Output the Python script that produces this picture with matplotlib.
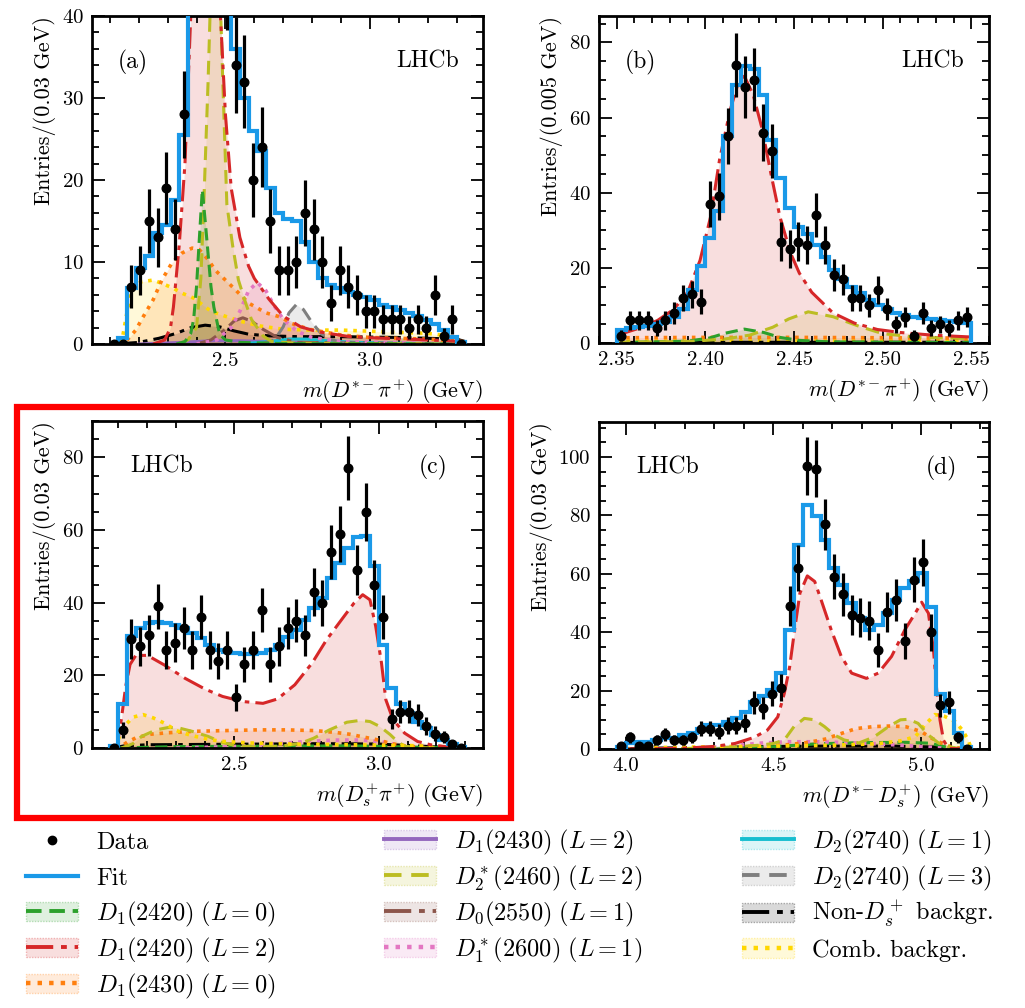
import numpy as np
import matplotlib
matplotlib.use("Agg")
from matplotlib import pyplot as plt
from matplotlib import colors as mcolors
from matplotlib.lines import Line2D
from matplotlib.patches import Patch, Rectangle
from matplotlib.ticker import MultipleLocator, FormatStrFormatter

plt.rcParams["font.family"] = "cmr10"
plt.rcParams["mathtext.fontset"] = "cm"
plt.rcParams["axes.formatter.use_mathtext"] = True
plt.rcParams["font.size"] = 15

FIT_COLOR = "#1a99e8"

# ---------------- panel (a): m(D*- pi+), 0.03 GeV bins ----------------
a_bins = (2.10, 3.33, 41)
a_counts = [0, 0, 7, 9, 15, 13, 19, 14, 28, 58, 90, 95, 75, 45, 34, 32, 20, 24,
            15, 9, 9, 10, 16, 14, 10, 5, 9, 7, 6, 4, 4, 3, 3, 3, 2, 3, 2, 6, 1, 3, 0]
a_fit = [0, 0.7, 6.8, 9.3, 10.7, 13.5, 14.5, 17.6, 25.5, 62, 98, 105, 80, 48, 36,
         30, 26, 23.5, 19, 16, 15.3, 15, 12.5, 10, 8, 7.2, 6.8, 6.4, 6.0, 5.7, 5.4,
         4.8, 4.5, 4.1, 3.8, 3.4, 2.9, 2.4, 1.7, 0.8, 0.2]

a_d12420_L0_x = [2.33, 2.36, 2.38, 2.39, 2.40, 2.41, 2.42, 2.43, 2.44, 2.45, 2.46, 2.48, 2.50, 2.55, 2.70, 3.33]
a_d12420_L0_y = [0, 0.3, 1.3, 3, 7, 13, 18.8, 15, 11, 7, 4.5, 1.2, 0.5, 0.2, 0.05, 0]
a_d12420_L2_x = [2.25, 2.29, 2.31, 2.32, 2.34, 2.36, 2.38, 2.40, 2.42, 2.44, 2.46, 2.48, 2.50,
                 2.52, 2.55, 2.58, 2.60, 2.65, 2.70, 2.76, 2.82, 2.93, 3.05, 3.20, 3.33]
a_d12420_L2_y = [0, 0.5, 2.0, 4.5, 12, 22, 40, 70, 100, 80, 58, 42, 28, 19, 13, 9.5, 8,
                 5.5, 3.4, 2.1, 1.5, 0.9, 0.7, 0.5, 0.3]
a_d12430_L0_x = [2.13, 2.155, 2.19, 2.21, 2.25, 2.28, 2.315, 2.35, 2.385, 2.41, 2.44, 2.465,
                 2.50, 2.535, 2.58, 2.64, 2.69, 2.73, 2.79, 2.90, 3.00, 3.20, 3.33]
a_d12430_L0_y = [0, 0.3, 1.7, 3, 5.4, 7.8, 9.9, 11.1, 11.7, 11.5, 10.3, 9, 7.8, 6.6, 5,
                 3.8, 3.3, 2.5, 1.8, 1.1, 0.8, 0.6, 0.3]
a_d12430_L2_x = [2.20, 2.35, 2.45, 2.55, 2.70, 2.90, 3.33]
a_d12430_L2_y = [0, 0.2, 0.4, 0.4, 0.25, 0.1, 0]
a_d22460_x = [2.34, 2.37, 2.40, 2.415, 2.425, 2.44, 2.465, 2.49, 2.505, 2.525, 2.545,
              2.57, 2.59, 2.63, 2.66, 2.75, 3.33]
a_d22460_y = [0, 0.5, 2.0, 8, 17, 32, 62, 33, 17, 12, 7.8, 5, 3, 1, 0.3, 0.1, 0]
a_d02550_x = [2.40, 2.45, 2.50, 2.53, 2.56, 2.59, 2.63, 2.68, 2.75, 3.33]
a_d02550_y = [0, 0.5, 1.8, 2.8, 3.2, 2.8, 1.8, 0.8, 0.2, 0]
a_d12600_x = [2.40, 2.47, 2.52, 2.55, 2.58, 2.61, 2.64, 2.67, 2.70, 2.75, 2.80, 2.90, 3.33]
a_d12600_y = [0, 0.5, 2, 4, 6.5, 7.5, 6.5, 4.6, 3, 1.5, 0.8, 0.3, 0]
a_d22740_L1_x = [2.55, 2.65, 2.72, 2.78, 2.85, 2.95, 3.10, 3.33]
a_d22740_L1_y = [0, 0.3, 0.6, 0.6, 0.4, 0.2, 0.1, 0]
a_d22740_L3_x = [2.62, 2.67, 2.70, 2.72, 2.745, 2.77, 2.80, 2.83, 2.86, 2.90, 3.0]
a_d22740_L3_y = [0, 0.5, 2.1, 3.8, 4.8, 4.2, 2.6, 1.3, 0.6, 0.2, 0]
a_nonds_x = [2.12, 2.20, 2.27, 2.33, 2.38, 2.43, 2.48, 2.53, 2.58, 2.65, 2.75, 2.90, 3.10, 3.30, 3.33]
a_nonds_y = [0, 0.2, 0.7, 1.3, 2.0, 2.3, 2.1, 1.6, 1.2, 1.0, 0.9, 0.9, 0.8, 0.6, 0.3]
a_comb_x = [2.14, 2.16, 2.18, 2.21, 2.25, 2.28, 2.32, 2.35, 2.39, 2.42, 2.45, 2.49, 2.55,
            2.62, 2.70, 2.80, 2.90, 3.05, 3.20, 3.27, 3.31, 3.33]
a_comb_y = [0, 4, 7, 7.6, 7.8, 7.4, 6.8, 6.2, 5.6, 4.8, 4.0, 3.5, 2.8, 2.2, 1.8, 1.7,
            1.7, 1.5, 1.3, 1.0, 0.5, 0.2]

# ---------------- panel (b): zoom on D1(2420), 0.005 GeV bins ----------------
b_bins = (2.35, 2.55, 40)
b_counts = [2, 6, 6, 6, 4, 6, 8, 12, 13, 11, 37, 39, 55, 74, 68, 70, 56, 51, 27, 25,
            27, 26, 34, 26, 18, 17, 12, 12, 10, 14, 9, 5, 7, 2, 8, 4, 5, 4, 6, 7]
b_fit = [3.5, 4.0, 4.3, 4.6, 5.0, 5.7, 7.0, 9.0, 14, 20.4, 28, 35, 55, 68.7, 73.6, 73,
         66, 54, 44, 36, 31, 29, 26, 23, 19.5, 17, 15, 13.3, 11.5, 10, 9, 8, 7.5, 7,
         6.6, 6.3, 6.0, 5.8, 5.6, 5.4]

b_d12420_L2_x = [2.350, 2.355, 2.363, 2.373, 2.382, 2.390, 2.397, 2.403, 2.408, 2.414,
                 2.419, 2.422, 2.427, 2.432, 2.437, 2.442, 2.448, 2.453, 2.460, 2.472,
                 2.484, 2.497, 2.510, 2.528, 2.550]
b_d12420_L2_y = [2, 2.8, 4, 6, 8.9, 13.5, 22, 33.7, 48.8, 62, 70, 71, 66, 57, 45, 33.7,
                 24, 18.6, 13.5, 8, 5.3, 3.6, 2.8, 2.1, 1.6]
b_d22460_x = [2.35, 2.39, 2.41, 2.425, 2.438, 2.447, 2.458, 2.472, 2.487, 2.50, 2.52, 2.55]
b_d22460_y = [0.2, 0.4, 1.0, 2.1, 4.2, 6.4, 8.3, 7.0, 4.4, 2.5, 1.5, 1.2]
b_d12420_L0_x = [2.35, 2.39, 2.402, 2.411, 2.422, 2.433, 2.442, 2.453, 2.47, 2.55]
b_d12420_L0_y = [0.1, 0.5, 1.3, 2.6, 3.7, 2.8, 1.5, 0.7, 0.3, 0.1]
b_d12430_L0_x = [2.35, 2.40, 2.45, 2.50, 2.55]
b_d12430_L0_y = [1.4, 1.5, 1.5, 1.4, 1.3]
b_comb_x = [2.35, 2.45, 2.55]
b_comb_y = [0.5, 0.5, 0.5]
b_nonds_x = [2.35, 2.45, 2.55]
b_nonds_y = [0.15, 0.2, 0.2]

# ---------------- panel (c): m(Ds+ pi+), 0.03 GeV bins ----------------
c_bins = (2.07, 3.30, 41)
c_counts = [0, 5, 30, 28, 31, 39, 27, 29, 33, 27, 36, 27, 24, 27, 14, 23, 27, 38, 23,
            28, 33, 35, 31, 43, 40, 54, 59, 77, 49, 65, 45, 36, 8, 10, 10, 9, 6, 4, 3, 1, 0]
c_fit = [0.5, 12, 30.7, 33, 34.5, 34.8, 34.4, 34, 33, 31.6, 30.2, 28.4, 27, 26.4, 26.1,
         26, 26, 26.1, 27, 28.4, 30.5, 32.5, 35.3, 38.5, 41.2, 46.7, 51, 55, 58.2, 58.4,
         50, 28.4, 16.5, 12, 9.6, 7.3, 5.5, 3.7, 2.3, 1.0, 0.4]

c_d12420_L2_x = [2.08, 2.095, 2.11, 2.125, 2.14, 2.16, 2.20, 2.26, 2.33, 2.40, 2.46, 2.53,
                 2.60, 2.65, 2.71, 2.77, 2.82, 2.88, 2.915, 2.945, 2.97, 2.99, 3.01, 3.025,
                 3.05, 3.09, 3.135, 3.18, 3.24, 3.29]
c_d12420_L2_y = [0, 0.5, 8, 17, 23, 25.5, 25.5, 22.8, 19.2, 16.2, 14.2, 12.8, 12.3, 13.5,
                 17.4, 23.4, 29.8, 36.2, 39.9, 42.2, 40.8, 33.5, 23.4, 13.3, 7.8, 4.1, 1.8,
                 0.9, 0.3, 0]
c_comb_x = [2.085, 2.10, 2.12, 2.15, 2.185, 2.22, 2.26, 2.30, 2.35, 2.40, 2.45, 2.55, 2.70,
            2.90, 3.10, 3.25, 3.29]
c_comb_y = [0, 2.5, 6, 8.5, 9.2, 8.3, 6.8, 4.8, 3.5, 2.6, 1.9, 1.4, 1.1, 0.9, 0.7, 0.3, 0]
c_d22460_x = [2.11, 2.15, 2.18, 2.23, 2.275, 2.31, 2.355, 2.41, 2.46, 2.51, 2.58, 2.66,
              2.73, 2.775, 2.83, 2.89, 2.935, 2.97, 3.005, 3.04, 3.065, 3.09, 3.15, 3.29]
c_d22460_y = [0, 1.2, 3.2, 5.0, 5.7, 5.5, 4.6, 3.2, 1.5, 0.6, 0.3, 0.5, 1.3, 2.7, 5.0,
              7.1, 7.6, 7.3, 5.9, 3.7, 1.8, 0.5, 0.1, 0]
c_d12430_L0_x = [2.09, 2.11, 2.13, 2.16, 2.21, 2.27, 2.36, 2.47, 2.58, 2.68, 2.78, 2.85,
                 2.90, 2.95, 3.00, 3.04, 3.08, 3.15, 3.29]
c_d12430_L0_y = [0, 0.5, 1.6, 2.8, 3.8, 4.2, 4.6, 4.8, 5.0, 5.0, 4.8, 4.3, 3.8, 3.0, 2.2,
                 1.3, 0.7, 0.2, 0]
c_d12600_x = [2.30, 2.50, 2.65, 2.75, 2.85, 2.95, 3.02, 3.08, 3.20]
c_d12600_y = [0, 0.4, 1.2, 1.8, 2.2, 2.2, 1.6, 0.6, 0]
c_nonds_x = [2.08, 2.12, 2.20, 2.40, 2.60, 2.80, 3.00, 3.10, 3.20, 3.29]
c_nonds_y = [0, 0.6, 0.9, 1.0, 1.1, 1.2, 1.1, 0.7, 0.3, 0]
c_d12420_L0_x = [2.10, 2.30, 2.60, 2.90, 3.10, 3.29]
c_d12420_L0_y = [0, 0.4, 0.5, 0.6, 0.3, 0]

# ---------------- panel (d): m(D*- Ds+), 0.03 GeV bins ----------------
d_bins = (3.97, 5.17, 40)
d_counts = [1, 4, 1, 1, 3, 5, 3, 3, 4, 7, 7, 6, 8, 8, 9, 16, 14, 19, 21, 49, 62, 97,
            96, 77, 59, 53, 46, 45, 44, 34, 47, 51, 37, 58, 64, 40, 15, 16, 4, 0]
d_fit = [0.8, 2, 2.5, 2.5, 3, 3.7, 3.7, 4.8, 5.4, 7, 8.2, 8.2, 9.4, 10.5, 12.8, 16.2, 18,
         20.2, 26, 40.8, 70, 83.7, 79.7, 71.7, 62, 56.2, 50, 44.8, 40.8, 42.5, 46.5, 51,
         55, 57.4, 60.2, 48.8, 19, 13, 5.5, 0.8]

d_d12420_L2_x = [3.97, 4.10, 4.20, 4.30, 4.37, 4.435, 4.48, 4.515, 4.537, 4.555, 4.572,
                 4.59, 4.615, 4.64, 4.662, 4.696, 4.73, 4.765, 4.815, 4.855, 4.90, 4.945,
                 4.98, 5.002, 5.025, 5.042, 5.053, 5.064, 5.076, 5.093, 5.17]
d_d12420_L2_y = [0, 0.1, 0.3, 0.9, 1.9, 4.0, 6.5, 11, 19, 28, 40.8, 53.4, 59.3, 57.4, 51,
                 40.8, 31.7, 26, 24.2, 26, 31.7, 40.8, 46.5, 50.3, 46.5, 34, 20.2, 10, 3,
                 0.2, 0]
d_d22460_x = [3.97, 4.20, 4.35, 4.45, 4.50, 4.537, 4.57, 4.605, 4.64, 4.673, 4.707, 4.74,
              4.79, 4.84, 4.89, 4.93, 4.957, 4.99, 5.025, 5.06, 5.093, 5.13, 5.17]
d_d22460_y = [0, 0.2, 0.6, 1.3, 1.9, 3.1, 7.7, 10.5, 10, 7.7, 4.8, 3.1, 2.1, 4.1, 7.7, 10,
              10.2, 8.8, 4.8, 2, 0.8, 0.2, 0]
d_d12430_L0_x = [3.97, 4.30, 4.45, 4.55, 4.62, 4.68, 4.72, 4.78, 4.84, 4.90, 4.95, 5.00,
                 5.036, 5.07, 5.10, 5.14, 5.17]
d_d12430_L0_y = [0, 0.3, 0.8, 1.5, 2.3, 3.5, 5.0, 7.0, 7.7, 7.9, 7.6, 6.0, 3.7, 2.0, 0.8,
                 0.2, 0]
d_comb_x = [3.97, 4.10, 4.30, 4.50, 4.70, 4.85, 4.93, 4.98, 5.013, 5.047, 5.08, 5.115,
            5.14, 5.16, 5.17]
d_comb_y = [0, 0.5, 0.8, 1.0, 1.3, 1.8, 2.8, 4.2, 8.3, 11.8, 11.2, 9.4, 6.5, 3, 0]
d_d12600_x = [4.20, 4.35, 4.45, 4.55, 4.65, 4.75, 4.85, 4.95, 5.05, 5.10]
d_d12600_y = [0, 1.0, 2.0, 2.5, 2.5, 2.2, 1.8, 1.2, 0.5, 0]
d_d12420_L0_x = [4.30, 4.50, 4.65, 4.80, 4.95, 5.03, 5.08, 5.12]
d_d12420_L0_y = [0, 0.8, 1.8, 2.2, 2.3, 2.0, 0.8, 0]
d_nonds_x = [3.97, 4.10, 4.30, 4.50, 4.70, 4.90, 5.05, 5.12, 5.17]
d_nonds_y = [0, 0.3, 0.6, 0.9, 1.0, 1.0, 0.7, 0.3, 0]

# component styles: colour, line style, line width, legend label
styles = {
    "d12420_L0": ("#2ca02c", (0, (4, 2)), 2.2, r"$D_1(2420)\ (L=0)$"),
    "d12420_L2": ("#d62728", (0, (7, 2, 1.5, 2)), 2.2, r"$D_1(2420)\ (L=2)$"),
    "d12430_L0": ("#ff7f0e", (0, (1, 1.6)), 2.6, r"$D_1(2430)\ (L=0)$"),
    "d12430_L2": ("#9467bd", "-", 2.2, r"$D_1(2430)\ (L=2)$"),
    "d22460": ("#bcbd22", (0, (4.5, 2.5)), 2.2, r"$D_2^*(2460)\ (L=2)$"),
    "d02550": ("#8c564b", (0, (7, 2, 1.5, 2)), 2.2, r"$D_0(2550)\ (L=1)$"),
    "d12600": ("#e377c2", (0, (1, 1.6)), 2.6, r"$D_1^*(2600)\ (L=1)$"),
    "d22740_L1": ("#17becf", "-", 2.2, r"$D_2(2740)\ (L=1)$"),
    "d22740_L3": ("#7f7f7f", (0, (4.5, 2.5)), 2.2, r"$D_2(2740)\ (L=3)$"),
    "nonds": ("#000000", (0, (7, 2, 1.5, 2)), 2.2, r"Non-$D_s^+$ backgr."),
    "comb": ("#ffd700", (0, (1, 1.6)), 2.6, "Comb. backgr."),
}
legend_order = ["d12420_L0", "d12420_L2", "d12430_L0", "d12430_L2", "d22460",
                "d02550", "d12600", "d22740_L1", "d22740_L3", "nonds", "comb"]

panels = [
    dict(pos=[0.0898, 0.6587, 0.3815, 0.3254], bins=a_bins, counts=a_counts, fit=a_fit,
         comps=[("comb", a_comb_x, a_comb_y), ("nonds", a_nonds_x, a_nonds_y),
                ("d12430_L2", a_d12430_L2_x, a_d12430_L2_y),
                ("d22740_L1", a_d22740_L1_x, a_d22740_L1_y),
                ("d02550", a_d02550_x, a_d02550_y),
                ("d22740_L3", a_d22740_L3_x, a_d22740_L3_y),
                ("d12600", a_d12600_x, a_d12600_y),
                ("d12430_L0", a_d12430_L0_x, a_d12430_L0_y),
                ("d22460", a_d22460_x, a_d22460_y),
                ("d12420_L0", a_d12420_L0_x, a_d12420_L0_y),
                ("d12420_L2", a_d12420_L2_x, a_d12420_L2_y)],
         xlim=(2.0385, 3.3915), ylim=(0, 40), xmaj=0.5, xmin=0.1, ymaj=10, ymin=2,
         xfmt="%.1f", ylabel="Entries/(0.03 GeV)",
         xlabel=r"$m(D^{*-}\pi^{+})$ (GeV)", tag="(a)", tagx=0.105, lhcbx=0.857),
    dict(pos=[0.5844, 0.6597, 0.3805, 0.3244], bins=b_bins, counts=b_counts, fit=b_fit,
         comps=[("comb", b_comb_x, b_comb_y), ("nonds", b_nonds_x, b_nonds_y),
                ("d12430_L0", b_d12430_L0_x, b_d12430_L0_y),
                ("d12420_L0", b_d12420_L0_x, b_d12420_L0_y),
                ("d22460", b_d22460_x, b_d22460_y),
                ("d12420_L2", b_d12420_L2_x, b_d12420_L2_y)],
         xlim=(2.34, 2.56), ylim=(0, 87), xmaj=0.05, xmin=0.01, ymaj=20, ymin=5,
         xfmt="%.2f", ylabel="Entries/(0.005 GeV)",
         xlabel=r"$m(D^{*-}\pi^{+})$ (GeV)", tag="(b)", tagx=0.105, lhcbx=0.856),
    dict(pos=[0.0898, 0.2579, 0.3815, 0.3244], bins=c_bins, counts=c_counts, fit=c_fit,
         comps=[("nonds", c_nonds_x, c_nonds_y), ("d12420_L0", c_d12420_L0_x, c_d12420_L0_y),
                ("d12600", c_d12600_x, c_d12600_y),
                ("d12430_L0", c_d12430_L0_x, c_d12430_L0_y),
                ("d22460", c_d22460_x, c_d22460_y),
                ("comb", c_comb_x, c_comb_y),
                ("d12420_L2", c_d12420_L2_x, c_d12420_L2_y)],
         xlim=(2.0085, 3.3615), ylim=(0, 90), xmaj=0.5, xmin=0.1, ymaj=20, ymin=5,
         xfmt="%.1f", ylabel="Entries/(0.03 GeV)",
         xlabel=r"$m(D_s^{+}\pi^{+})$ (GeV)", tag="(c)", tagx=0.872, lhcbx=0.179),
    dict(pos=[0.5844, 0.2569, 0.3805, 0.3244], bins=d_bins, counts=d_counts, fit=d_fit,
         comps=[("nonds", d_nonds_x, d_nonds_y), ("d12420_L0", d_d12420_L0_x, d_d12420_L0_y),
                ("d12600", d_d12600_x, d_d12600_y),
                ("d12430_L0", d_d12430_L0_x, d_d12430_L0_y),
                ("comb", d_comb_x, d_comb_y),
                ("d22460", d_d22460_x, d_d22460_y),
                ("d12420_L2", d_d12420_L2_x, d_d12420_L2_y)],
         xlim=(3.91, 5.23), ylim=(0, 112), xmaj=0.5, xmin=0.1, ymaj=20, ymin=5,
         xfmt="%.1f", ylabel="Entries/(0.03 GeV)",
         xlabel=r"$m(D^{*-}D_s^{+})$ (GeV)", tag="(d)", tagx=0.879, lhcbx=0.177),
]

fig = plt.figure(figsize=(10.25, 10.08), dpi=100)

for p in panels:
    ax = fig.add_axes(p["pos"])
    lo, hi, n = p["bins"]
    edges = np.linspace(lo, hi, n + 1)
    centers = 0.5 * (edges[1:] + edges[:-1])
    counts = np.array(p["counts"], dtype=float)

    for key, x, y in p["comps"]:
        color, ls, lw, _ = styles[key]
        ax.fill_between(x, y, 0, color=color, alpha=0.15, lw=0, zorder=1)
        ax.plot(x, y, color=color, ls=ls, lw=lw, zorder=2)

    ax.stairs(p["fit"], edges, color=FIT_COLOR, lw=3.0, zorder=3)
    ax.errorbar(centers, counts, yerr=np.sqrt(counts), fmt="o", color="k", ms=6.2,
                elinewidth=2.3, capsize=0, zorder=4)

    ax.set_xlim(*p["xlim"])
    ax.set_ylim(*p["ylim"])
    ax.xaxis.set_major_locator(MultipleLocator(p["xmaj"]))
    ax.xaxis.set_minor_locator(MultipleLocator(p["xmin"]))
    ax.xaxis.set_major_formatter(FormatStrFormatter(p["xfmt"]))
    ax.yaxis.set_major_locator(MultipleLocator(p["ymaj"]))
    ax.yaxis.set_minor_locator(MultipleLocator(p["ymin"]))
    ax.tick_params(which="both", direction="in", top=True, right=True, width=1.3,
                   labelsize=15)
    ax.tick_params(which="major", length=9, pad=6)
    ax.tick_params(which="minor", length=5)
    for sp in ax.spines.values():
        sp.set_linewidth(2)
    ax.set_xlabel(p["xlabel"], loc="right", fontsize=16, labelpad=5)
    ax.set_ylabel(p["ylabel"], loc="top", fontsize=16, labelpad=4)
    ax.text(p["tagx"], 0.857, p["tag"], transform=ax.transAxes, ha="center",
            va="center", fontsize=17)
    ax.text(p["lhcbx"], 0.862, "LHCb", transform=ax.transAxes, ha="center",
            va="center", fontsize=17)

# highlight box around panel (c)
fig.patches.append(Rectangle((17 / 1025, 190 / 1008), 494 / 1025, 411 / 1008,
                             fill=False, ec="#ff0000", lw=4.5,
                             transform=fig.transFigure, figure=fig))

# legend: three columns below the panels, one entry per row
def comp_handle(key):
    color, ls, lw, _ = styles[key]
    box = Patch(facecolor=mcolors.to_rgba(color, 0.15),
                edgecolor=mcolors.to_rgba(color, 0.3), lw=1.0, ls=(0, (1, 1)))
    return (box, Line2D([], [], color=color, ls=ls, lw=lw + 0.6))

col1_h = [Line2D([], [], marker="o", color="k", ls="none", ms=6),
          Line2D([], [], color=FIT_COLOR, lw=3.0)] + \
         [comp_handle(k) for k in legend_order[:3]]
col1_l = ["Data", "Fit"] + [styles[k][3] for k in legend_order[:3]]
col2_h = [comp_handle(k) for k in legend_order[3:7]]
col2_l = [styles[k][3] for k in legend_order[3:7]]
col3_h = [comp_handle(k) for k in legend_order[7:]]
col3_l = [styles[k][3] for k in legend_order[7:]]

row_y = [842, 878, 914, 950, 986]
for hs, labels, x0 in [(col1_h, col1_l, 26), (col2_h, col2_l, 384), (col3_h, col3_l, 742)]:
    for h, lab, y0 in zip(hs, labels, row_y):
        fig.legend([h], [lab], loc="center left",
                   bbox_to_anchor=(x0 / 1025, 1 - y0 / 1008),
                   frameon=False, fontsize=17.5, handlelength=2.15, handleheight=0.85,
                   handletextpad=0.75, borderpad=0, borderaxespad=0)

fig.savefig("out.png", dpi=100)
